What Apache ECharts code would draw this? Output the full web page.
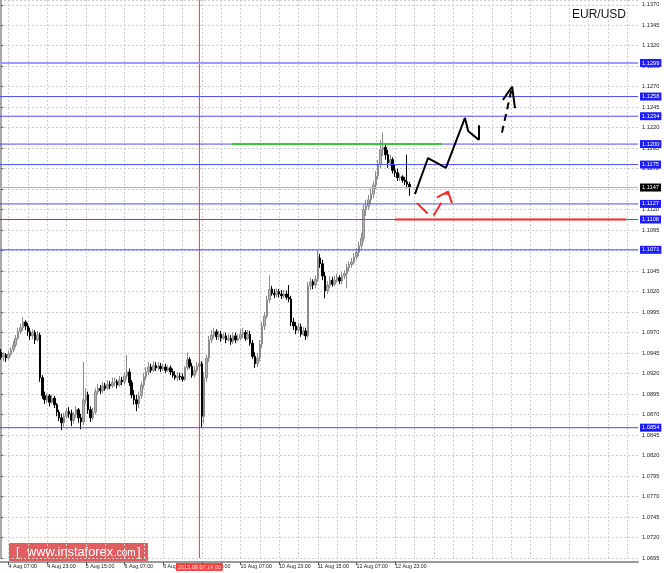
<!DOCTYPE html>
<html>
<head>
<meta charset="utf-8">
<script src="https://cdn.jsdelivr.net/npm/echarts@6/dist/echarts.min.js"></script>
<style>
html,body{margin:0;padding:0;background:#fff;}
#chart{width:664px;height:573px;}
</style>
</head>
<body>
<div id="chart"></div>
<script>
// ---------- DATA (hourly EUR/USD, 4 Aug 04:00 -> 13 Aug 05:00) ----------
const OPEN = [
1.0946,1.0940,1.0943,1.0939,1.0944,1.0949,1.0955,1.0963,1.0971,1.0976,
1.0983,1.0978,1.0971,1.0966,1.0970,1.0961,1.0967,1.0915,1.0893,1.0888,
1.0893,1.0885,1.0890,1.0882,1.0873,1.0866,1.0860,1.0868,1.0874,1.0871,
1.0863,1.0870,1.0876,1.0866,1.0861,1.0888,1.0894,1.0876,1.0866,1.0873,
1.0898,1.0902,1.0899,1.0905,1.0902,1.0907,1.0905,1.0909,1.0910,1.0906,
1.0912,1.0910,1.0917,1.0922,1.0909,1.0894,1.0888,1.0883,1.0893,1.0906,
1.0916,1.0922,1.0928,1.0924,1.0930,1.0927,1.0929,1.0926,1.0928,1.0924,
1.0927,1.0922,1.0918,1.0915,1.0917,1.0916,1.0913,1.0927,1.0937,1.0929,
1.0918,1.0924,1.0929,1.0932,1.0868,1.0915,1.0939,1.0961,1.0967,1.0971,
1.0965,1.0968,1.0963,1.0966,1.0961,1.0963,1.0959,1.0966,1.0961,1.0963,
1.0968,1.0970,1.0963,1.0968,1.0957,1.0941,1.0932,1.0939,1.0956,1.0978,
1.0990,1.1010,1.1023,1.1018,1.1016,1.1020,1.1017,1.1015,1.1017,1.1013,
1.1011,1.0983,1.0978,1.0973,1.0977,1.0968,1.0972,1.0966,1.1027,1.1032,
1.1028,1.1035,1.1061,1.1054,1.1039,1.1021,1.1028,1.1034,1.1029,1.1034,
1.1037,1.1033,1.1039,1.1042,1.1049,1.1053,1.1056,1.1062,1.1068,1.1076,
1.1085,1.1120,1.1124,1.1132,1.1139,1.1150,1.1161,1.1175,1.1193,1.1196,
1.1187,1.1177,1.1181,1.1168,1.1165,1.1159,1.1160,1.1156,1.1154,1.1151
];
const CLOSE = [
1.0940,1.0943,1.0939,1.0944,1.0949,1.0955,1.0963,1.0971,1.0976,1.0983,
1.0978,1.0971,1.0966,1.0970,1.0961,1.0967,1.0915,1.0893,1.0888,1.0893,
1.0885,1.0890,1.0882,1.0873,1.0866,1.0860,1.0868,1.0874,1.0871,1.0863,
1.0870,1.0876,1.0866,1.0861,1.0888,1.0894,1.0876,1.0866,1.0873,1.0898,
1.0902,1.0899,1.0905,1.0902,1.0907,1.0905,1.0909,1.0910,1.0906,1.0912,
1.0910,1.0917,1.0922,1.0909,1.0894,1.0888,1.0883,1.0893,1.0906,1.0916,
1.0922,1.0928,1.0924,1.0930,1.0927,1.0929,1.0926,1.0928,1.0924,1.0927,
1.0922,1.0918,1.0915,1.0917,1.0916,1.0913,1.0927,1.0937,1.0929,1.0918,
1.0924,1.0929,1.0932,1.0868,1.0915,1.0939,1.0961,1.0967,1.0971,1.0965,
1.0968,1.0963,1.0966,1.0961,1.0963,1.0959,1.0966,1.0961,1.0963,1.0968,
1.0970,1.0963,1.0968,1.0957,1.0941,1.0932,1.0939,1.0956,1.0978,1.0990,
1.1010,1.1023,1.1018,1.1016,1.1020,1.1017,1.1015,1.1017,1.1013,1.1011,
1.0983,1.0978,1.0973,1.0977,1.0968,1.0972,1.0966,1.1027,1.1032,1.1028,
1.1035,1.1061,1.1054,1.1039,1.1021,1.1028,1.1034,1.1029,1.1034,1.1037,
1.1033,1.1039,1.1042,1.1049,1.1053,1.1056,1.1062,1.1068,1.1076,1.1085,
1.1120,1.1124,1.1132,1.1139,1.1150,1.1161,1.1175,1.1193,1.1196,1.1187,
1.1177,1.1181,1.1168,1.1165,1.1159,1.1160,1.1156,1.1154,1.1151,1.1147
];
const LOW = [
1.0937,1.0935,1.0934,1.0937,1.0941,1.0946,1.0952,1.0961,1.0968,1.0972,
1.0973,1.0966,1.0961,1.0962,1.0956,1.0959,1.0910,1.0889,1.0883,1.0884,
1.0880,1.0883,1.0878,1.0868,1.0862,1.0851,1.0855,1.0865,1.0866,1.0856,
1.0859,1.0866,1.0860,1.0852,1.0857,1.0883,1.0871,1.0861,1.0863,1.0870,
1.0894,1.0895,1.0896,1.0899,1.0900,1.0901,1.0902,1.0905,1.0902,1.0904,
1.0906,1.0907,1.0913,1.0905,1.0890,1.0882,1.0874,1.0878,1.0889,1.0902,
1.0912,1.0918,1.0921,1.0922,1.0923,1.0924,1.0922,1.0923,1.0921,1.0922,
1.0918,1.0915,1.0912,1.0911,1.0912,1.0910,1.0911,1.0924,1.0926,1.0915,
1.0915,1.0921,1.0926,1.0854,1.0859,1.0910,1.0934,1.0957,1.0963,1.0961,
1.0961,1.0959,1.0961,1.0957,1.0959,1.0955,1.0956,1.0957,1.0959,1.0961,
1.0963,1.0960,1.0961,1.0954,1.0938,1.0927,1.0928,1.0935,1.0951,1.0973,
1.0987,1.1006,1.1015,1.1012,1.1013,1.1013,1.1011,1.1012,1.1010,1.1007,
1.0978,1.0973,1.0968,1.0970,1.0965,1.0966,1.0961,1.0963,1.1022,1.1023,
1.1024,1.1032,1.1049,1.1034,1.1012,1.1017,1.1024,1.1026,1.1027,1.1031,
1.1029,1.1029,1.1035,1.1024,1.1045,1.1049,1.1053,1.1059,1.1063,1.1071,
1.1081,1.1112,1.1120,1.1127,1.1134,1.1145,1.1157,1.1171,1.1185,1.1181,
1.1171,1.1173,1.1164,1.1160,1.1155,1.1155,1.1153,1.1150,1.1146,1.1137
];
const HIGH = [
1.0950,1.0946,1.0945,1.0948,1.0952,1.0960,1.0967,1.0976,1.0981,1.0989,
1.0985,1.0982,1.0976,1.0974,1.0973,1.0972,1.0970,1.0918,1.0898,1.0896,
1.0895,1.0894,1.0893,1.0884,1.0876,1.0871,1.0872,1.0878,1.0879,1.0876,
1.0873,1.0880,1.0878,1.0871,1.0934,1.0902,1.0898,1.0880,1.0878,1.0902,
1.0907,1.0906,1.0910,1.0909,1.0912,1.0911,1.0915,1.0915,1.0913,1.0917,
1.0916,1.0922,1.0943,1.0926,1.0912,1.0900,1.0894,1.0898,1.0910,1.0921,
1.0928,1.0934,1.0932,1.0935,1.0934,1.0934,1.0933,1.0932,1.0932,1.0930,
1.0930,1.0926,1.0923,1.0922,1.0921,1.0920,1.0929,1.0946,1.0940,1.0933,
1.0929,1.0934,1.0938,1.0935,1.0922,1.0943,1.0966,1.0973,1.0976,1.0974,
1.0972,1.0972,1.0970,1.0970,1.0968,1.0967,1.0970,1.0970,1.0968,1.0974,
1.0976,1.0973,1.0973,1.0972,1.0961,1.0946,1.0945,1.0961,1.0983,1.0995,
1.1015,1.1040,1.1027,1.1023,1.1024,1.1023,1.1022,1.1022,1.1021,1.1028,
1.1015,1.0988,1.0983,1.0982,1.0981,1.0977,1.0976,1.1032,1.1037,1.1035,
1.1040,1.1071,1.1066,1.1059,1.1044,1.1033,1.1039,1.1038,1.1039,1.1042,
1.1040,1.1044,1.1046,1.1054,1.1057,1.1061,1.1067,1.1073,1.1081,1.1092,
1.1126,1.1132,1.1138,1.1146,1.1155,1.1167,1.1181,1.1205,1.1214,1.1201,
1.1193,1.1187,1.1184,1.1175,1.1170,1.1164,1.1162,1.1160,1.1187,1.1154
];

// horizontal levels (blue lines with labels on the price scale)
const LEVELS = [1.1299, 1.1258, 1.1234, 1.1200, 1.1175, 1.1127, 1.1108, 1.1071, 1.0854];
const BID = 1.1147;
const MARKER_SLOT = 82;                 // 2015.08.07 14:00 candle
const MARKER_LABEL = '2015.08.07 14:00';

// time slots (hour index along the axis) and prices for the drawn annotations
const GREEN_SEG      = [[95.5, 1.1200], [182.4, 1.1200]];
const RED_SEG        = [[163.0, 1.1108], [258.5, 1.1108]];
const MAIN_PATH      = [[171.2, 1.1139], [176.6, 1.1183], [184.0, 1.1171], [191.9, 1.1232], [193.2, 1.1216], [197.7, 1.1205]];
const MAIN_BARB      = [[197.7, 1.1223], [197.7, 1.1205]];
const ALT_SHAFT      = [[207.2, 1.1214], [211.4, 1.1270]];
const ALT_HEAD       = [[207.6, 1.1254], [211.4, 1.1270], [212.6, 1.1244]];
const PULLBACK_PATH  = [[172.0, 1.1128], [178.3, 1.1110], [184.9, 1.1142]];
const PULLBACK_HEAD  = [[180.3, 1.1135], [184.9, 1.1142], [186.5, 1.1128]];

// axis settings
const N_SLOTS = 264;
const Y_MIN = 1.0695, Y_MAX = 1.13758, Y_STEP = 0.0025;
const FIRST_DAY = 4, FIRST_HOUR = 4, FRIDAY = 7, MONDAY = 10;

// ---------- build categories ----------
function buildCategories() {
  const out = [];
  let d = FIRST_DAY, h = FIRST_HOUR;
  for (let i = 0; i < N_SLOTS; i++) {
    out.push(d + ' Aug ' + String(h).padStart(2, '0') + ':00');
    h++;
    if (h === 24) { h = 0; d++; if (d === FRIDAY + 1) d = MONDAY; }
  }
  return out;
}
const cats = buildCategories();
const nData = OPEN.length;
const candles = OPEN.map((o, i) => [o, CLOSE[i], LOW[i], HIGH[i]]);
const X_LO = -0.5, X_HI = N_SLOTS - 0.5;

const labelInterval = (idx) => idx < nData && (idx - 3) % 16 === 0;
const gridInterval = (idx) => (idx - 3) % 8 === 0;

function seg(data, color, width, type, z) {
  return {
    type: 'line', xAxisIndex: 1, yAxisIndex: 0, data: data,
    symbol: 'none', silent: true, z: z || 5, animation: false,
    itemStyle: { color: color },
    lineStyle: { color: color, width: width, type: type }
  };
}
function level(v, color, width, bg) {
  return {
    type: 'line', xAxisIndex: 1, yAxisIndex: 0,
    data: [[X_LO, v], [X_HI, v]],
    symbol: 'none', silent: true, z: 4, animation: false, clip: false,
    itemStyle: { color: color },
    lineStyle: { color: color, width: width, type: 'solid' },
    endLabel: {
      show: true, distance: 2, formatter: () => v.toFixed(4),
      backgroundColor: bg, color: '#ffffff', fontSize: 5.7,
      padding: [1, 2, 1, 2], fontFamily: 'Liberation Sans'
    }
  };
}

const levelSeries = LEVELS.map((v, i) =>
  i === 0 ? level(v, '#9a9aff', 2, '#1c1cff') : level(v, '#4b4bff', 1, '#1c1cff'));
levelSeries.push(level(BID, '#b4b4b4', 1, '#000000'));

const chart = echarts.init(document.getElementById('chart'), null, { renderer: 'canvas' });
chart.setOption({
  animation: false,
  backgroundColor: '#ffffff',
  textStyle: { fontFamily: 'Liberation Sans' },
  title: {
    text: 'EUR/USD', left: 567, top: 4,
    textStyle: { fontSize: 12, fontWeight: 'normal', color: '#151515', fontFamily: 'Liberation Sans' }
  },
  grid: { left: 0, right: 26, top: 0, bottom: 15, containLabel: false },
  xAxis: [{
    type: 'category', data: cats, boundaryGap: true, offset: 4,
    axisLine: { show: true, lineStyle: { color: '#9a9a9a', width: 2 } },
    axisTick: { show: true, alignWithLabel: true, interval: labelInterval, length: 3, lineStyle: { color: '#555' } },
    axisLabel: { interval: labelInterval, align: 'left', margin: 2, fontSize: 5.3, color: '#222' },
    splitLine: { show: true, interval: gridInterval, alignWithLabel: true, lineStyle: { color: '#cdcdcd', type: [2, 2], width: 1 } }
  }, {
    type: 'value', min: X_LO, max: X_HI, show: false
  }],
  yAxis: {
    type: 'value', position: 'right', min: Y_MIN, max: Y_MAX, interval: Y_STEP,
    axisLine: { show: true, lineStyle: { color: '#8a8a8a', width: 1.5 } },
    axisTick: { show: true, length: 2, lineStyle: { color: '#555' } },
    axisLabel: { margin: 4, fontSize: 5.7, color: '#222', formatter: (v) => v.toFixed(4), showMaxLabel: false },
    splitLine: { show: true, lineStyle: { color: '#cdcdcd', type: [2, 2], width: 1 } }
  },
  graphic: [{
    type: 'group', left: 9, top: 543, z: 10,
    children: [
      { type: 'rect', shape: { x: 0, y: 0, width: 139, height: 18, r: 1 }, style: { fill: '#de5f5f' } },
      { type: 'text', style: { x: 7, y: 9, text: '[', fill: '#fff', font: '13px "Liberation Sans"', verticalAlign: 'middle' } },
      { type: 'text', style: { x: 18, y: 9.5, text: 'www.instaforex', fill: '#fff', font: '12.8px "Liberation Sans"', verticalAlign: 'middle' } },
      { type: 'text', style: { x: 105, y: 10, text: '.com', fill: '#fff', font: '10px "Liberation Sans"', verticalAlign: 'middle' } },
      { type: 'text', style: { x: 128, y: 9, text: ']', fill: '#fff', font: '13px "Liberation Sans"', verticalAlign: 'middle' } }
    ]
  }],
  series: [
    {
      type: 'candlestick', xAxisIndex: 0, yAxisIndex: 0, data: candles,
      barWidth: 2, z: 3,
      itemStyle: { color: '#b4b4b4', color0: '#000000', borderColor: '#8c8c8c', borderColor0: '#000000', borderWidth: 1 }
    },
    // vertical time marker
    seg([[MARKER_SLOT, Y_MIN], [MARKER_SLOT, Y_MAX]], '#f03a3a', 1, 'solid', 4),
    {
      type: 'scatter', xAxisIndex: 1, yAxisIndex: 0, data: [[MARKER_SLOT, Y_MIN]],
      symbolSize: 0, silent: true, z: 9, animation: false, clip: false,
      label: {
        show: true, position: 'bottom', distance: 5, formatter: () => MARKER_LABEL,
        backgroundColor: '#ff1a1a', color: '#ffffff', fontSize: 5.5,
        padding: [1, 2, 1, 2], fontFamily: 'Liberation Sans'
      }
    }
  ].concat(levelSeries).concat([
    seg(GREEN_SEG, '#3cc43c', 2, 'solid', 6),
    seg(RED_SEG, '#ee2b2b', 2, 'solid', 6),
    seg(MAIN_PATH, '#000000', 2, 'solid', 7),
    seg(MAIN_BARB, '#000000', 2, 'solid', 7),
    seg(ALT_SHAFT, '#000000', 2, [7, 5], 7),
    seg(ALT_HEAD, '#000000', 2, 'solid', 7),
    seg(PULLBACK_PATH, '#ee2b2b', 2, [15, 9], 7),
    seg(PULLBACK_HEAD, '#ee2b2b', 2, 'solid', 7)
  ])
});
</script>
</body>
</html>
